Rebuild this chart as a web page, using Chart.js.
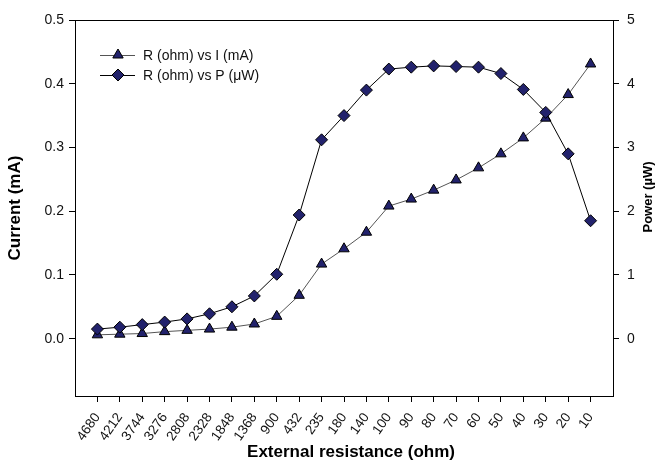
<!DOCTYPE html>
<html>
<head>
<meta charset="utf-8">
<script src="https://cdn.jsdelivr.net/npm/chart.js@4/dist/chart.umd.min.js"></script>
<style>
html, body { margin: 0; padding: 0; background: #fff; }
</style>
</head>
<body>
<canvas id="chart" width="664" height="463"></canvas>
<script>
// x categories, external resistance in ohm
const resistance = ['4680', '4212', '3744', '3276', '2808', '2328', '1848', '1368', '900', '432',
    '235', '180', '140', '100', '90', '80', '70', '60', '50', '40', '30', '20', '10'];
// current in mA (left axis)
const currentMA = [0.006, 0.007, 0.008, 0.011, 0.013, 0.015, 0.018, 0.023, 0.035, 0.068,
    0.117, 0.141, 0.167, 0.208, 0.219, 0.233, 0.249, 0.268, 0.290, 0.315, 0.346, 0.383, 0.431];
// power in microwatt (right axis)
const powerUW = [0.15, 0.18, 0.22, 0.26, 0.31, 0.39, 0.50, 0.67, 1.01, 1.94,
    3.12, 3.50, 3.90, 4.23, 4.26, 4.28, 4.27, 4.26, 4.16, 3.91, 3.55, 2.90, 1.85];
const currentTicks = [0, 0.1, 0.2, 0.3, 0.4, 0.5];
const powerTicks = [0, 1, 2, 3, 4, 5];

const markerFill = '#22226c';
const font = 'Liberation Sans, Arial, sans-serif';

function drawMarker(ctx, style, x, y, r, fill) {
    ctx.save();
    ctx.beginPath();
    if (style === 'triangle') {
        ctx.moveTo(x, y - r);
        ctx.lineTo(x + r * Math.sin(Math.PI / 3), y + r * 0.5);
        ctx.lineTo(x - r * Math.sin(Math.PI / 3), y + r * 0.5);
    } else {
        ctx.moveTo(x, y - r);
        ctx.lineTo(x + r, y);
        ctx.lineTo(x, y + r);
        ctx.lineTo(x - r, y);
    }
    ctx.closePath();
    ctx.fillStyle = fill;
    ctx.fill();
    ctx.lineWidth = 1;
    ctx.strokeStyle = '#000';
    ctx.stroke();
    ctx.restore();
}

// top frame line, axis titles and the legend inside the plot
const decorations = {
    id: 'decorations',
    afterDraw(chart) {
        const ctx = chart.ctx;
        const a = chart.chartArea;
        ctx.save();
        ctx.strokeStyle = '#000';
        ctx.lineWidth = 1;
        ctx.beginPath();
        ctx.moveTo(a.left, Math.round(a.top) + 0.5);
        ctx.lineTo(a.right, Math.round(a.top) + 0.5);
        ctx.stroke();

        ctx.fillStyle = '#000';
        ctx.textAlign = 'center';
        ctx.textBaseline = 'middle';
        ctx.font = 'bold 17px ' + font;
        ctx.fillText('External resistance (ohm)', (a.left + a.right) / 2 + 7, 452);

        ctx.save();
        ctx.translate(15, (a.top + a.bottom) / 2);
        ctx.rotate(-Math.PI / 2);
        ctx.fillText('Current (mA)', 0, 0);
        ctx.restore();

        ctx.save();
        ctx.font = 'bold 13px ' + font;
        ctx.translate(648, (a.top + a.bottom) / 2 - 11);
        ctx.rotate(-Math.PI / 2);
        ctx.fillText('Power (\u00b5W)', 0, 0);
        ctx.restore();

        // legend
        const items = [chart.data.datasets[1], chart.data.datasets[0]];
        ctx.font = '14px ' + font;
        ctx.textAlign = 'left';
        items.forEach((ds, i) => {
            const y = a.top + 35 + i * 20;
            ctx.strokeStyle = ds.borderColor;
            ctx.lineWidth = 1;
            ctx.beginPath();
            ctx.moveTo(a.left + 25, y + 0.5);
            ctx.lineTo(a.left + 60, y + 0.5);
            ctx.stroke();
            drawMarker(ctx, ds.pointStyle, a.left + 43, y, ds.pointRadius, markerFill);
            ctx.fillStyle = '#111';
            ctx.fillText(ds.label, a.left + 68, y + 1);
        });
        ctx.restore();
    }
};

const ctx = document.getElementById('chart').getContext('2d');
const chart = new Chart(ctx, {
    type: 'line',
    data: {
        datasets: [{
            label: 'R (ohm) vs P (\u03bcW)',
            data: powerUW.map((v, i) => ({ x: i, y: v })),
            yAxisID: 'y1',
            order: 0,
            borderColor: '#000',
            borderWidth: 1,
            pointStyle: 'rectRot',
            pointRadius: 6,
            pointBackgroundColor: markerFill,
            pointBorderColor: '#000',
            pointBorderWidth: 1
        }, {
            label: 'R (ohm) vs I (mA)',
            data: currentMA.map((v, i) => ({ x: i, y: v })),
            yAxisID: 'y',
            order: 1,
            borderColor: '#555',
            borderWidth: 1,
            pointStyle: 'triangle',
            pointRadius: 6,
            pointBackgroundColor: markerFill,
            pointBorderColor: '#000',
            pointBorderWidth: 1
        }]
    },
    options: {
        responsive: false,
        animation: false,
        devicePixelRatio: 1,
        layout: { padding: { top: 20, left: 0, right: 0, bottom: 0 } },
        plugins: { legend: { display: false }, tooltip: { enabled: false } },
        elements: { line: { tension: 0 } },
        scales: {
            x: {
                type: 'linear',
                min: -1,
                max: resistance.length,
                afterBuildTicks: s => { s.ticks = resistance.map((_, i) => ({ value: i })); },
                afterFit: s => { s.height = 67; },
                grid: { display: true, drawOnChartArea: false, drawTicks: true, tickLength: 6, color: '#000' },
                border: { display: true, color: '#000', width: 1 },
                ticks: {
                    autoSkip: false,
                    minRotation: 55,
                    maxRotation: 55,
                    padding: 8,
                    color: '#111',
                    font: { family: font, size: 13.5 },
                    callback: v => resistance[v]
                }
            },
            y: {
                position: 'left',
                min: -0.09,
                max: 0.5,
                afterBuildTicks: s => { s.ticks = currentTicks.map(v => ({ value: v })); },
                afterFit: s => { s.width = 75; },
                grid: { display: true, drawOnChartArea: false, drawTicks: true, tickLength: 6, color: '#000' },
                border: { display: true, color: '#000', width: 1 },
                ticks: {
                    padding: 5,
                    color: '#111',
                    font: { family: font, size: 14 },
                    callback: v => v.toFixed(1)
                }
            },
            y1: {
                position: 'right',
                min: -0.9,
                max: 5,
                afterBuildTicks: s => { s.ticks = powerTicks.map(v => ({ value: v })); },
                afterFit: s => { s.width = 51; },
                grid: { display: true, drawOnChartArea: false, drawTicks: true, tickLength: 6, color: '#000' },
                border: { display: true, color: '#000', width: 1 },
                ticks: {
                    padding: 8,
                    color: '#111',
                    font: { family: font, size: 14 },
                    callback: v => String(v)
                }
            }
        }
    },
    plugins: [decorations]
});
</script>
</body>
</html>
